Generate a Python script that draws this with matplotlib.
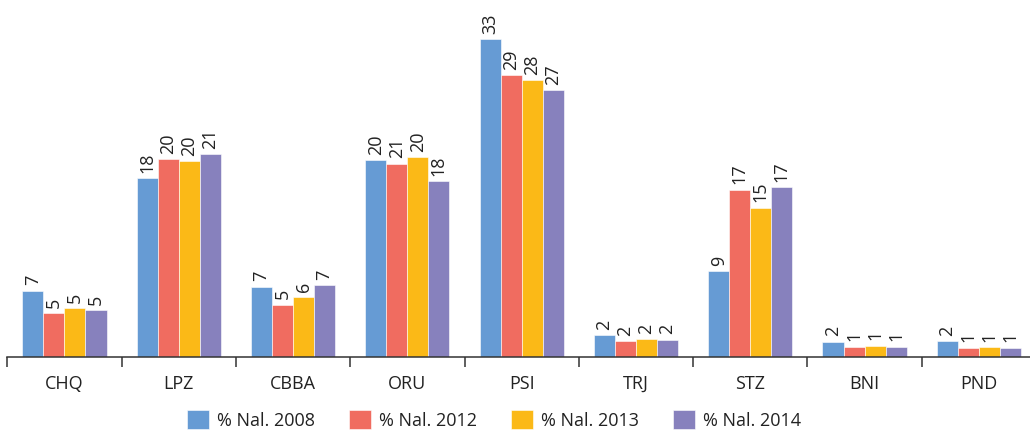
import matplotlib.pyplot as plt
import numpy as np

plt.rcParams['font.family'] = ['Open Sans', 'DejaVu Sans']

# data
categories = ['CHQ', 'LPZ', 'CBBA', 'ORU', 'PSI', 'TRJ', 'STZ', 'BNI', 'PND']
series_names = ['% Nal. 2008', '% Nal. 2012', '% Nal. 2013', '% Nal. 2014']
nal_2008 = [6.83, 18.36, 7.24, 20.24, 32.65, 2.26, 8.85, 1.60, 1.67]
nal_2012 = [4.51, 20.31, 5.39, 19.86, 28.92, 1.67, 17.19, 1.09, 0.98]
nal_2013 = [5.03, 20.10, 6.18, 20.54, 28.41, 1.88, 15.34, 1.19, 1.06]
nal_2014 = [4.82, 20.82, 7.38, 18.05, 27.38, 1.81, 17.47, 1.09, 0.98]
# labels as printed on the chart (rounded in the source)
lab_2008 = ['7', '18', '7', '20', '33', '2', '9', '2', '2']
lab_2012 = ['5', '20', '5', '21', '29', '2', '17', '1', '1']
lab_2013 = ['5', '20', '6', '20', '28', '2', '15', '1', '1']
lab_2014 = ['5', '21', '7', '18', '27', '2', '17', '1', '1']

colors = ['#669BD4', '#F06C60', '#FBB917', '#8781BD']

fig = plt.figure(figsize=(10.30, 4.31), dpi=100)
ax = fig.add_axes([7.3 / 1030, 72.7 / 431, 1028.7 / 1030, 358.3 / 431])

x = np.arange(len(categories))
w = 0.184
all_vals = [nal_2008, nal_2012, nal_2013, nal_2014]
all_labs = [lab_2008, lab_2012, lab_2013, lab_2014]
handles = []
for j, (vals, labs) in enumerate(zip(all_vals, all_labs)):
    pos = x + (j - 1.5) * w
    bars = ax.bar(pos, vals, width=w, color=colors[j], edgecolor='white',
                  linewidth=0.4, label=series_names[j])
    handles.append(bars)
    for b, t in zip(bars, labs):
        ax.annotate(t, (b.get_x() + b.get_width() / 2, b.get_height()),
                    xytext=(0, 4.5), textcoords='offset points',
                    rotation=90, ha='center', va='bottom',
                    fontsize=13, color='#222222')

ax.set_xlim(-0.5, len(categories) - 0.5)
ax.set_ylim(0, 358.3 / 9.75)

ax.set_xticks(x)
ax.set_xticklabels(categories, fontsize=13, color='#222222')
ax.tick_params(axis='x', which='major', length=0, pad=12)
ax.set_xticks(np.arange(len(categories) + 1) - 0.5, minor=True)
ax.tick_params(axis='x', which='minor', length=7, width=1.1, color='#333333',
               direction='out')
ax.set_yticks([])
for s in ['top', 'right', 'left']:
    ax.spines[s].set_visible(False)
ax.spines['bottom'].set_color('#333333')
ax.spines['bottom'].set_linewidth(1.1)

leg = fig.legend(handles=handles, loc='upper left',
                 bbox_to_anchor=(187 / 1030, 1 - 411 / 431),
                 ncol=4, frameon=False, fontsize=13, handlelength=1.2,
                 handleheight=1.2, handletextpad=0.45, columnspacing=1.9,
                 borderpad=0, borderaxespad=0)
for t in leg.get_texts():
    t.set_color('#222222')

fig.savefig('out.png', dpi=100)
